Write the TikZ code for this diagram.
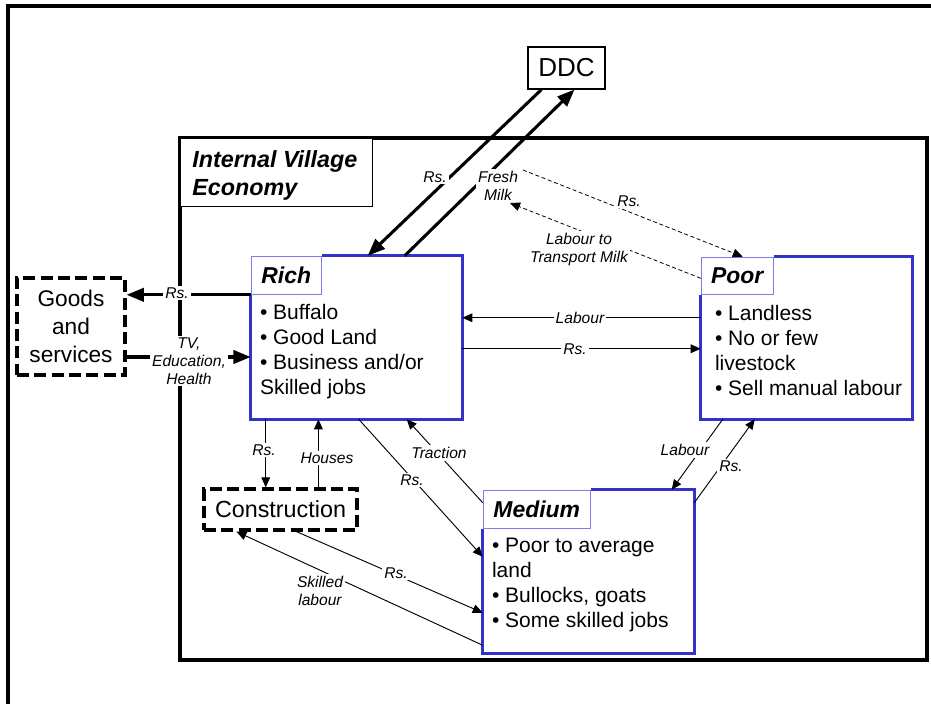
\documentclass[tikz,border=0pt]{standalone}
\usepackage{fontspec}
\setmainfont{Liberation Sans}
\usetikzlibrary{arrows.meta,calc}
\definecolor{boxblue}{RGB}{51,51,204}
\definecolor{tabblue}{RGB}{125,125,230}

\begin{document}
\begin{tikzpicture}[x=0.75pt,y=-0.75pt,
  every node/.style={inner sep=0pt},
  lbl/.style={font=\fontsize{11.7}{13.5}\selectfont\itshape, fill=white, inner sep=1.5pt, align=center},
  bodytext/.style={font=\fontsize{15.75}{18.75}\selectfont, align=left, anchor=north west},
  grp/.style={minimum width=158.25pt, minimum height=122.25pt},
  tabbox/.style={draw=tabblue, line width=0.8pt, fill=white, anchor=north west,
    font=\fontsize{17.2}{19}\selectfont\bfseries\itshape},
  boxline/.style={draw=boxblue, line width=2.3pt, line join=miter},
  dashbox/.style={draw, line width=2.4pt, dash pattern=on 9pt off 4pt, fill=white},
  thinarrow/.style={line width=0.7pt, -{Triangle[length=7.5pt,width=6.5pt]}},
  thickarrow/.style={line width=2.3pt, -{Triangle[length=13pt,width=10pt]}},
  dasharrow/.style={line width=0.6pt, dash pattern=on 3pt off 2pt, -{Triangle[length=7.5pt,width=6.5pt]}}
]
\useasboundingbox (0,0) rectangle (931,704);

% outer page frame (top and left edges only)
\draw[line width=2.3pt] (8,704) -- (8,6) -- (931,6);

% village frame and its title
\draw[line width=2.3pt] (180,138) rectangle (927,660);
\node[draw, line width=0.8pt, fill=white, minimum width=144pt, minimum height=51pt, anchor=north west] (title) at (180,138) {};
\node[font=\fontsize{17.5}{21}\selectfont\bfseries\itshape, align=left, anchor=north west] (titletext) at (192,150) {Internal Village\\Economy};

% external boxes
\node[draw, line width=0.8pt, fill=white, minimum width=57.75pt, minimum height=31.5pt, font=\fontsize{19.5}{22}\selectfont] (ddc) at (566.5,68) {DDC};
\node[dashbox, minimum width=81pt, minimum height=72.75pt, align=center, font=\fontsize{17}{21}\selectfont] (goods) at (71,326.5) {Goods\\and\\services};
\node[dashbox, minimum width=114.75pt, minimum height=30.75pt, font=\fontsize{17.5}{20}\selectfont] (construction) at (280.5,509.5) {Construction};

% household groups
\node[grp] (rich) at (356.5,337.5) {};
\node[tabbox, minimum width=52.5pt, minimum height=28.5pt] (richtab) at (rich.north west) {Rich};
\draw[boxline] (richtab.north east) -- (rich.north east) -- (rich.south east) -- (rich.south west) -- (richtab.south west);
\node[bodytext] (richtext) at ($(rich.north west)+(9,48)$) {• Buffalo\\• Good Land\\• Business and/or\\Skilled jobs};

\node[grp, minimum height=121.5pt] (poor) at (806.5,338) {};
\node[tabbox, minimum width=54pt, minimum height=27.75pt] (poortab) at (poor.north west) {Poor};
\draw[boxline] (poortab.north east) -- (poor.north east) -- (poor.south east) -- (poor.south west) -- (poortab.south west);
\node[bodytext] (poortext) at ($(poor.north west)+(14,48)$) {• Landless\\• No or few\\livestock\\• Sell manual labour};

\node[grp] (medium) at (588.5,571.5) {};
\node[tabbox, minimum width=80.25pt, minimum height=28.5pt] (mediumtab) at (medium.north west) {Medium};
\draw[boxline] (mediumtab.north east) -- (medium.north east) -- (medium.south east) -- (medium.south west) -- (mediumtab.south west);
\node[bodytext] (mediumtext) at ($(medium.north west)+(9,48)$) {• Poor to average\\land\\• Bullocks, goats\\• Some skilled jobs};

% flows with the outside
\draw[thickarrow] (richtab.south west) -- (richtab.south west -| goods.east);
\draw[thickarrow] ($(goods.east)+(0,30.5)$) coordinate (gs) -- (gs -| rich.west);
\draw[thickarrow] ($(ddc.south west)+(14,0)$) -- ($(rich.north west)+(117,0)$);
\draw[thickarrow] ($(rich.north west)+(154,0)$) -- ($(ddc.south west)+(47,0)$);

% milk transport
\node[lbl] (milk) at (498,186) {Fresh\\Milk};
\draw[dasharrow] ($(milk.center)+(25,-16)$) -- ($(poor.north west)+(42,0)$);
\draw[dasharrow] ($(poortab.west)+(0,2.5)$) -- ($(milk.center)+(12,17)$);

% flows inside the village
\draw[thinarrow] ($(poor.north west)+(0,61)$) coordinate (pl) -- (pl -| rich.east);
\draw[thinarrow] ($(rich.north east)+(0,93)$) coordinate (rr) -- (rr -| poor.west);
\draw[thinarrow] ($(poor.south west)+(22,0)$) -- ($(medium.north west)+(189,0)$);
\draw[thinarrow] ($(medium.north east)+(0,13)$) -- ($(poor.south west)+(54,0)$);
\draw[thinarrow] ($(rich.south west)+(108,0)$) -- ($(medium.north west)+(0,67)$);
\draw[thinarrow] ($(medium.north west)+(0,13)$) -- ($(rich.south west)+(156,0)$);
\draw[thinarrow] ($(rich.south west)+(15,0)$) coordinate (rc) -- (rc |- construction.north);
\draw[thinarrow] ($(construction.north west)+(116,0)$) coordinate (ch) -- (ch |- rich.south);
\draw[thinarrow] ($(construction.south west)+(94,0)$) -- ($(medium.north west)+(0,123)$);
\draw[thinarrow] ($(medium.south west)+(0,-8)$) -- ($(construction.south west)+(34,0)$);

% flow labels
\node[lbl] (l1) at (177,293) {Rs.};
\node[lbl] (l2) at (189,361) {TV,\\Education,\\Health};
\node[lbl] (l3) at (435,177) {Rs.};
\node[lbl] (l4) at (629,201) {Rs.};
\node[lbl] (l5) at (579,249) {Labour to\\Transport Milk};
\node[lbl] (l6) at (580,318) {Labour};
\node[lbl] (l7) at (575,349) {Rs.};
\node[lbl] (l8) at (685,450) {Labour};
\node[lbl] (l9) at (731,466) {Rs.};
\node[lbl] (l10) at (439,453) {Traction};
\node[lbl] (l11) at (412,480) {Rs.};
\node[lbl] (l12) at (264,450) {Rs.};
\node[lbl] (l13) at (327,458) {Houses};
\node[lbl] (l14) at (396,573) {Rs.};
\node[lbl] (l15) at (320,591) {Skilled\\labour};
\end{tikzpicture}
\end{document}
